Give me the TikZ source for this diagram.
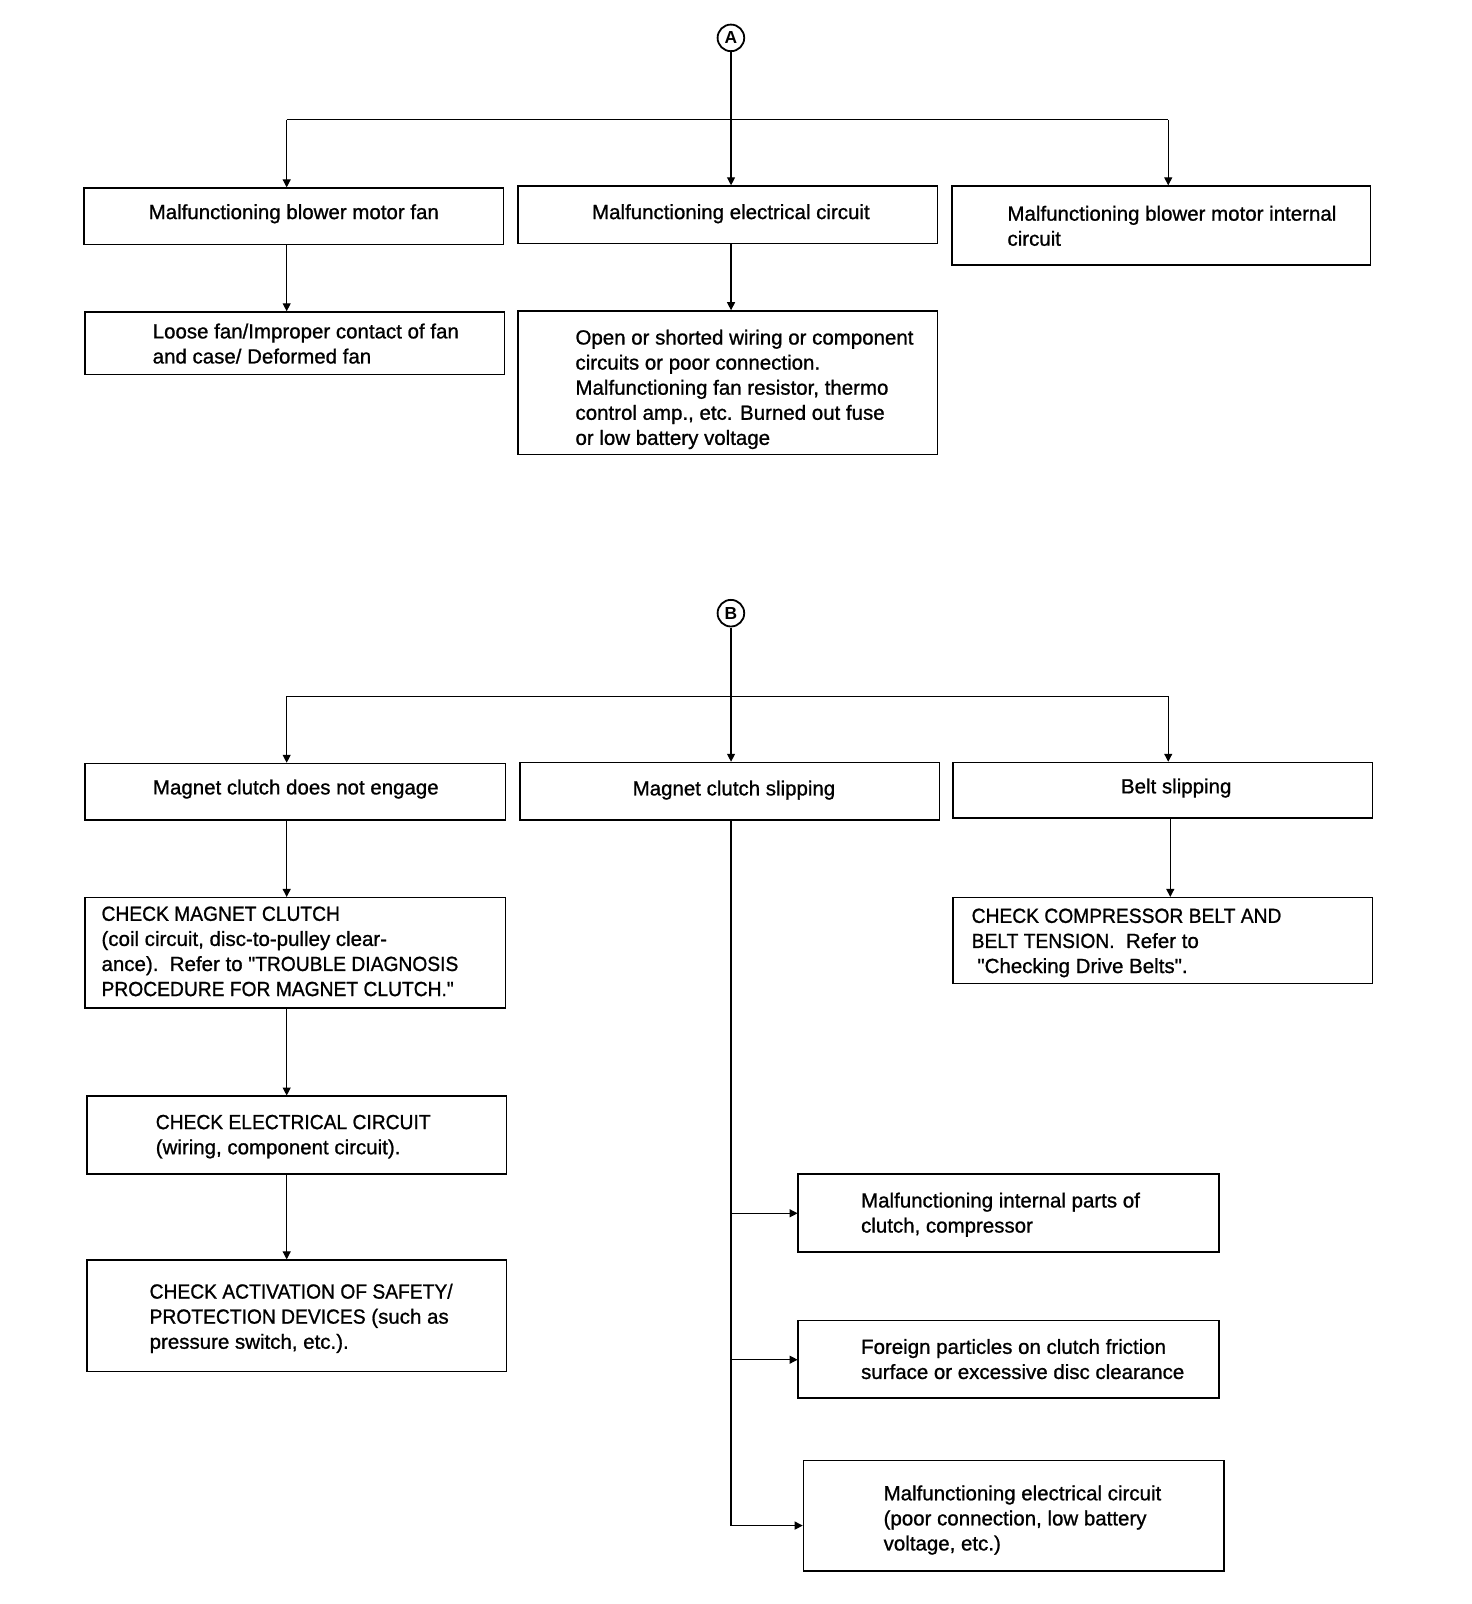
\documentclass[tikz,border=0pt]{standalone}
\usepackage{fontspec}
\setmainfont{Liberation Sans}[Ligatures=TeXOff,FakeBold=1.0]
\newfontfamily\capsfont{Liberation Sans}[Ligatures=TeXOff,FakeBold=1.0,FakeStretch=0.94]
\newfontfamily\circfont{Liberation Sans Bold}[Ligatures=TeXOff]
\usetikzlibrary{arrows.meta}
\begin{document}
\begin{tikzpicture}[x=1pt,y=1pt,scale=1.0237,
  every node/.append style={transform shape},
  box/.style={draw,line width=1.6pt,inner sep=0pt,anchor=north west},
  txt/.style={font=\fontsize{20}{24.5}\selectfont,align=left,inner sep=0pt,anchor=north west,execute at begin node={\strut}},
  ctxt/.style={font=\fontsize{20}{24.5}\selectfont,inner sep=0pt,anchor=base},
  conn/.style={line width=1.2pt},
  arr/.style={conn,-{Triangle[length=8pt,width=8pt]}},
  circ/.style={draw,circle,line width=1.8pt,minimum size=26pt,inner sep=0pt,font=\circfont\fontsize{17}{20}\selectfont}
]
\useasboundingbox (0,0) rectangle (1437.9,-1566.9);

% ---------- part A ----------
\node[circ] (A) at (714,-37) {A};
\node[box,minimum width=410pt,minimum height=55pt] (b1) at (81,-183) {};
\node[box,minimum width=410pt,minimum height=56pt] (b2) at (505,-181) {};
\node[box,minimum width=409pt,minimum height=77pt] (b3) at (929,-181) {};
\node[box,minimum width=410pt,minimum height=61pt] (b4) at (82,-304) {};
\node[box,minimum width=410pt,minimum height=140pt] (b5) at (505,-303) {};

\node[ctxt] (t1) at (287,-214) {Malfunctioning blower motor fan};
\node[ctxt] (t2) at (714,-214) {Malfunctioning electrical circuit};
\node[txt] (t3) at (984,{-218+17.15}) {Malfunctioning blower motor internal\\circuit};
\node[txt] (t4) at (149,{-333+17.15}) {Loose fan/Improper contact of fan\\and case/ Deformed fan};
\node[txt] (t5) at (562,{-339+17.15}) {Open or shorted wiring or component\\circuits or poor connection.\\Malfunctioning fan resistor, thermo\\control amp., etc. Burned out fuse\\or low battery voltage};

\coordinate (h1l) at (280,-117);
\coordinate (h1r) at (1141,-117);
\draw[conn] (h1l) -- (h1r);
\draw[arr] (A.south) -- (A.south |- b2.north);
\draw[arr] (h1l) -- (h1l |- b1.north);
\draw[arr] (h1r) -- (h1r |- b3.north);
\draw[arr] (h1l |- b1.south) -- (h1l |- b4.north);
\draw[arr] (A.south |- b2.south) -- (A.south |- b5.north);

% ---------- part B ----------
\node[circ] (B) at (714,-599) {B};
\node[box,minimum width=411pt,minimum height=55pt] (b6) at (82,-745) {};
\node[box,minimum width=410pt,minimum height=56pt] (b7) at (507,-744) {};
\node[box,minimum width=410pt,minimum height=54pt] (b8) at (930,-744) {};
\node[box,minimum width=411pt,minimum height=108pt] (b9) at (82,-876) {};
\node[box,minimum width=410pt,minimum height=84pt] (b10) at (930,-876) {};
\node[box,minimum width=410pt,minimum height=76pt] (b11) at (84,-1070) {};
\node[box,minimum width=410pt,minimum height=109pt] (b12) at (84,-1230) {};
\node[box,minimum width=411pt,minimum height=76pt] (b13) at (779,-1146) {};
\node[box,minimum width=411pt,minimum height=76pt] (b14) at (779,-1289) {};
\node[box,minimum width=411pt,minimum height=108pt] (b15) at (784,-1426) {};

\node[ctxt] (t6) at (289,-776) {Magnet clutch does not engage};
\node[ctxt] (t7) at (717,-777) {Magnet clutch slipping};
\node[ctxt] (t8) at (1149,-775) {Belt slipping};
\node[txt] (t9) at (99,{-902.5+17.15}) {{\capsfont CHECK MAGNET CLUTCH}\\(coil circuit, disc-to-pulley clear-\\ance).\ \ Refer to {\capsfont "TROUBLE DIAGNOSIS}\\{\capsfont PROCEDURE FOR MAGNET CLUTCH."}};
\node[txt] (t10) at (949,{-904.5+17.15}) {{\capsfont CHECK COMPRESSOR BELT AND}\\{\capsfont BELT TENSION.}\ \ Refer to\\\hspace*{0.28em}"Checking Drive Belts".};
\node[txt] (t11) at (152,{-1106+17.15}) {{\capsfont CHECK ELECTRICAL CIRCUIT}\\(wiring, component circuit).};
\node[txt] (t12) at (146,{-1271+17.15}) {{\capsfont CHECK ACTIVATION OF SAFETY/}\\{\capsfont PROTECTION DEVICES} (such as\\pressure switch, etc.).};
\node[txt] (t13) at (841,{-1182+17.15}) {Malfunctioning internal parts of\\clutch, compressor};
\node[txt] (t14) at (841,{-1325+17.15}) {Foreign particles on clutch friction\\surface or excessive disc clearance};
\node[txt] (t15) at (863,{-1468+17.15}) {Malfunctioning electrical circuit\\(poor connection, low battery\\voltage, etc.)};

\coordinate (h2l) at (280,-680);
\coordinate (h2r) at (1141,-680);
\coordinate (c8) at (1143,-800);
\coordinate (k1) at (714,-1185);
\coordinate (k2) at (714,-1328);
\coordinate (k3) at (714,-1490);
\draw[conn] (h2l) -- (h2r);
\draw[arr] (B.south) -- (B.south |- b7.north);
\draw[arr] (h2l) -- (h2l |- b6.north);
\draw[arr] (h2r) -- (h2r |- b8.north);
\draw[arr] (h2l |- b6.south) -- (h2l |- b9.north);
\draw[arr] (c8 |- b8.south) -- (c8 |- b10.north);
\draw[arr] (h2l |- b9.south) -- (h2l |- b11.north);
\draw[arr] (h2l |- b11.south) -- (h2l |- b12.north);
\draw[conn] (B.south |- b7.south) -- (k3);
\draw[arr] (k1) -- (k1 -| b13.west);
\draw[arr] (k2) -- (k2 -| b14.west);
\draw[arr] (k3) -- (k3 -| b15.west);
\end{tikzpicture}
\end{document}
